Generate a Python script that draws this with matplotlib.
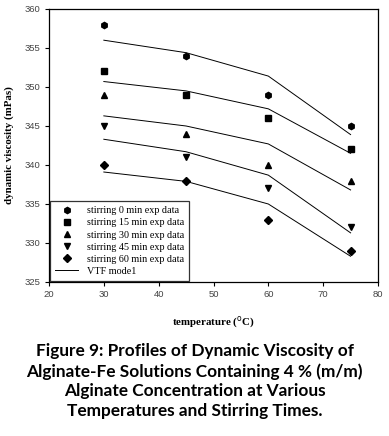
import matplotlib.pyplot as plt

temps = [30, 45, 60, 75]

# experimental data per stirring time
exp_0 = [358, 354, 349, 345]
exp_15 = [352, 349, 346, 342]
exp_30 = [349, 344, 340, 338]
exp_45 = [345, 341, 337, 332]
exp_60 = [340, 338, 333, 329]

# VTF model curves
vtf_0 = [356.0, 354.4, 351.4, 343.9]
vtf_15 = [350.7, 349.5, 347.2, 341.5]
vtf_30 = [346.3, 345.0, 342.7, 336.8]
vtf_45 = [343.3, 341.7, 338.7, 331.3]
vtf_60 = [339.1, 337.9, 335.0, 328.3]

labels = ["stirring 0 min exp data", "stirring 15 min exp data",
          "stirring 30 min exp data", "stirring 45 min exp data",
          "stirring 60 min exp data"]
markers = ["h", "s", "^", "v", "D"]
sizes = [4.5, 4.5, 4.5, 4.5, 4.0]

caption = ("Figure 9: Profiles of Dynamic Viscosity of\n"
           "Alginate-Fe Solutions Containing 4 % (m/m)\n"
           "Alginate Concentration at Various\n"
           "Temperatures and Stirring Times.")

fig = plt.figure(figsize=(3.89, 4.36), dpi=100)
ax = fig.add_axes([49/389, 1-282/436, 329/389, 273/436])

exps = [exp_0, exp_15, exp_30, exp_45, exp_60]
vtfs = [vtf_0, vtf_15, vtf_30, vtf_45, vtf_60]

handles = []
for e, m, s, lab in zip(exps, markers, sizes, labels):
    h, = ax.plot(temps, e, linestyle='none', marker=m, markersize=s,
                 color='black', label=lab)
    handles.append(h)
for i, v in enumerate(vtfs):
    h, = ax.plot(temps, v, color='black', linewidth=0.7,
                 label='VTF mode1' if i == 0 else None)
    if i == 0:
        handles.append(h)

ax.set_xlim(20, 80)
ax.set_ylim(325, 360)
ax.set_xticks(range(20, 81, 10))
ax.set_yticks(range(325, 361, 5))
ax.tick_params(direction='out', length=3, width=0.8, labelsize=6.8,
               labelcolor='#444444', pad=3)
for lab in ax.get_xticklabels() + ax.get_yticklabels():
    lab.set_family('Liberation Sans')
for sp in ax.spines.values():
    sp.set_linewidth(0.9)

ax.set_xlabel(r'temperature ($^{\rm o}$C)', family='Liberation Serif',
              fontweight='bold', fontsize=7.8, va='center')
ax.xaxis.set_label_coords(0.5, -(322-282)/273)
ax.set_ylabel('dynamic viscosity (mPas)', family='Liberation Serif',
              fontweight='bold', fontsize=7.8, va='center')
ax.yaxis.set_label_coords(-(49-9)/329, 0.5)

leg = ax.legend(handles=handles, loc='lower left', bbox_to_anchor=(0.0, 0.0),
                prop={'family': 'Liberation Serif', 'size': 7.3},
                frameon=True, fancybox=False, edgecolor='black',
                handlelength=2.3, handletextpad=0.8, labelspacing=0.3,
                borderpad=0.5, borderaxespad=0.1)
leg.get_frame().set_linewidth(0.9)

fig.text(0.5, 1-381/436, caption, ha='center', va='center',
         family='Lato', fontweight='bold', fontsize=12.4, linespacing=1.27)

fig.savefig('out.png', dpi=100)
